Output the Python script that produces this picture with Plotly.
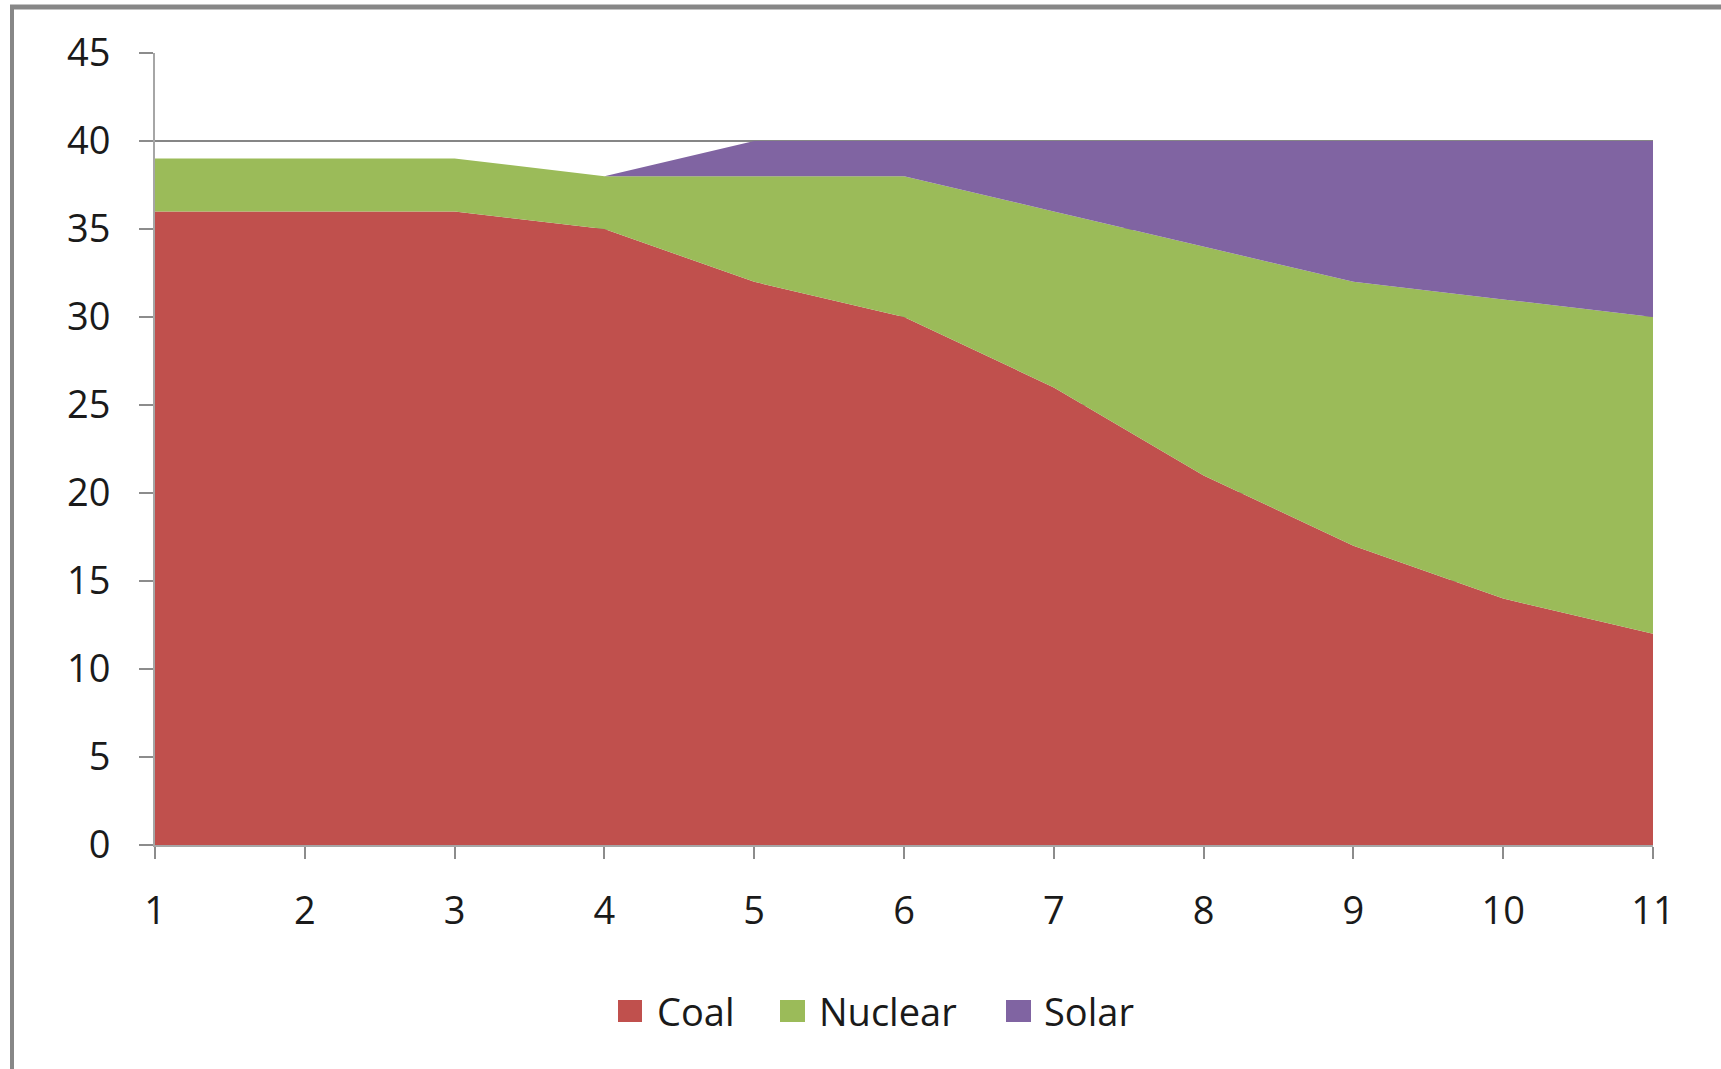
import plotly.graph_objects as go

x_vals = [1, 2, 3, 4, 5, 6, 7, 8, 9, 10, 11]
coal = [36, 36, 36, 35, 32, 30, 26, 21, 17, 14, 12]
nuclear = [3, 3, 3, 3, 6, 8, 10, 13, 15, 17, 18]
solar = [0, 0, 0, 0, 2, 2, 4, 6, 8, 9, 10]
series_names = ["Coal", "Nuclear", "Solar"]
colors = ["#C0504D", "#9BBB59", "#8064A2"]
y_ticks = [0, 5, 10, 15, 20, 25, 30, 35, 40, 45]

fig = go.Figure()
for name, vals, col in zip(series_names, [coal, nuclear, solar], colors):
    fig.add_trace(go.Scatter(
        x=x_vals, y=vals, name=name, stackgroup="one", mode="lines",
        line=dict(width=0, color=col), fillcolor=col, showlegend=False,
        hoverinfo="x+y+name"))

# body margin is removed via post_script, so page pixels == figure pixels
W, H = 1721, 1069
PL, PR, PT, PB = 155, 1653, 53, 845   # plot area in page pixels
L, T = PL, PT
pw, ph = PR - PL, PB - PT
R = W - L - pw
B = H - T - ph

def px(xp):
    return (xp - PL) / pw

def py(yp):
    return (PB - yp) / ph

font = dict(family="'Open Sans', sans-serif", size=38, color="#1a1a1a")

# manual legend (squares + labels), page pixel positions
legend_sq = [(618, 642), (780, 805), (1006, 1031)]
legend_txt_x = [655, 817, 1042]
legend_yc = 1011
shapes = [
    dict(type="line", xref="paper", yref="paper", x0=px(12), x1=px(12),
         y0=py(6), y1=py(1090), line=dict(color="#878787", width=4)),
    dict(type="line", xref="paper", yref="paper", x0=px(10), x1=px(1740),
         y0=py(7), y1=py(7), line=dict(color="#878787", width=5)),
]
annotations = []
for (x0, x1), tx, name, col in zip(legend_sq, legend_txt_x, series_names, colors):
    shapes.append(dict(type="rect", xref="paper", yref="paper",
                       x0=px(x0), x1=px(x1), y0=py(legend_yc + 11), y1=py(legend_yc - 11),
                       fillcolor=col, line=dict(width=0)))
    annotations.append(dict(text=name, xref="paper", yref="paper", x=px(tx),
                            y=py(legend_yc), xanchor="left", yanchor="middle",
                            showarrow=False, font=font))

fig.update_layout(
    width=W, height=H,
    margin=dict(l=L, r=R, t=T, b=B),
    paper_bgcolor="white", plot_bgcolor="white",
    font=font,
    showlegend=False,
    xaxis=dict(range=[1, 11], tickvals=x_vals, ticks="outside", ticklen=12,
               tickcolor="#8c8c8c", tickwidth=2, showgrid=False,
               showline=True, linecolor="#a6a6a6", linewidth=2,
               zeroline=False, ticklabelstandoff=19, tickfont=font),
    yaxis=dict(range=[0, 45], tickvals=y_ticks, ticks="outside", ticklen=14,
               tickcolor="#8c8c8c", tickwidth=2, showgrid=True,
               gridcolor="#868686", gridwidth=2,
               showline=True, linecolor="#a6a6a6", linewidth=2,
               zeroline=False, ticklabelstandoff=21, tickfont=font),
    shapes=shapes,
    annotations=annotations,
)

fig.write_html("out.html", config={"displayModeBar": False},
               post_script="document.body.style.margin='0px';")
